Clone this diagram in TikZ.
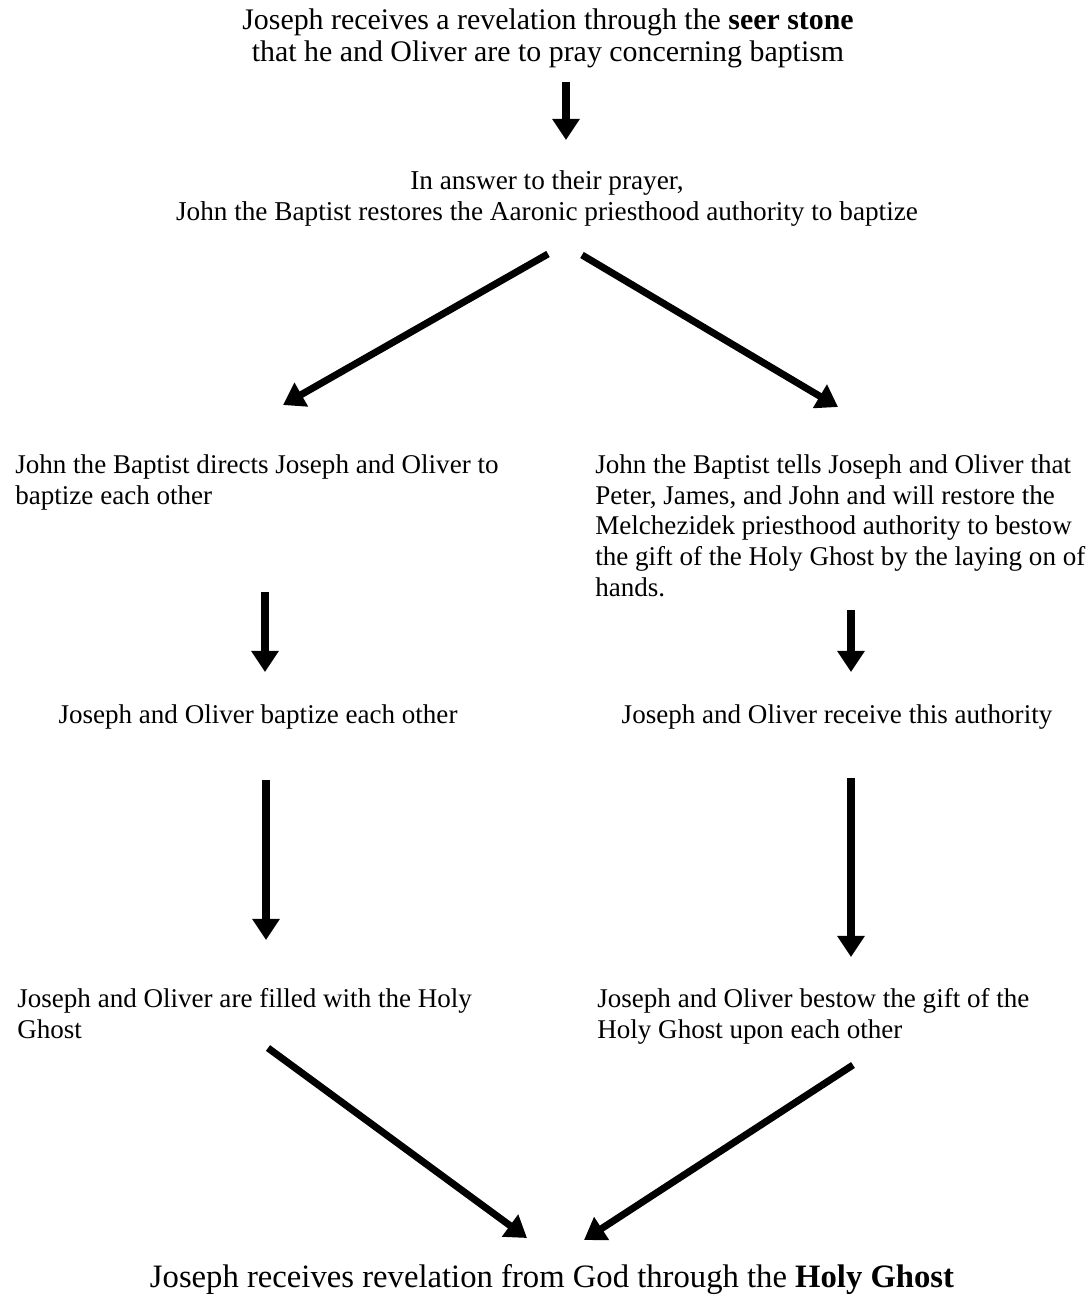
\documentclass[tikz,border=0pt]{standalone}
\usepackage{fontspec}
\setmainfont{Liberation Serif}
\usetikzlibrary{arrows.meta,calc}
\tikzset{flow/.style={line width=4pt,-{Triangle[length=12pt,width=15pt]}}}
\tikzset{para/.style={inner sep=0pt,align=left,font=\fontsize{15.4}{17.6}\selectfont}}
\tikzset{headline/.style={inner sep=0pt,align=center,font=\fontsize{17}{18.2}\selectfont}}

\begin{document}
\begin{tikzpicture}[x=0.02cm,y=-0.02cm]
	\useasboundingbox (0,0) rectangle (1090,1302);
	% top and second statement
	\node [headline,anchor=north] (seer) at (548,8) {Joseph receives a revelation through the \textbf{seer stone}\\that he and Oliver are to pray concerning baptism};
	\node [para,align=center,font=\fontsize{15.5}{17.6}\selectfont,anchor=north] (prayer) at (547,170) {In answer to their prayer,\\John the Baptist restores the Aaronic priesthood authority to baptize};
	% the two branches
	\node [para,anchor=north west] (directs) at (15,454) {John the Baptist directs Joseph and Oliver to\\baptize each other};
	\node [para,anchor=north west] (tells) at (595,454) {John the Baptist tells Joseph and Oliver that\\Peter, James, and John and will restore the\\Melchezidek priesthood authority to bestow\\the gift of the Holy Ghost by the laying on of\\hands.};
	\node [para,anchor=north] (baptize) at (258,704) {Joseph and Oliver baptize each other};
	\node [para,anchor=north] (receive) at (837,704) {Joseph and Oliver receive this authority};
	\node [para,anchor=north west] (filled) at (17,988) {Joseph and Oliver are filled with the Holy\\Ghost};
	\node [para,anchor=north west] (bestow) at (597,988) {Joseph and Oliver bestow the gift of the\\Holy Ghost upon each other};
	\node [inner sep=0pt,anchor=north,font=\fontsize{18.6}{21}\selectfont] (revel) at (552,1264) {Joseph receives revelation from God through the \textbf{Holy Ghost}};

	\draw [flow] ($(seer.north)+(18,74)$) -- ($(prayer.north)+(19,-30)$);
	\draw [flow] ($(prayer.north)+(1,84)$) -- ($(directs.north west)+(268,-49)$);
	\draw [flow] ($(prayer.north)+(35,85)$) -- ($(tells.north west)+(243,-47)$);
	\draw [flow] ($(directs.north west)+(250,138)$) -- ($(baptize.north)+(7,-32)$);
	\draw [flow] ($(tells.north west)+(256,156)$) -- ($(receive.north)+(14,-32)$);
	\draw [flow] ($(baptize.north)+(8,76)$) -- ($(filled.north west)+(249,-48)$);
	\draw [flow] ($(receive.north)+(14,74)$) -- ($(bestow.north west)+(254,-31)$);
	\draw [flow] ($(filled.north west)+(251,60)$) -- ($(revel.north)+(-25,-26)$);
	\draw [flow] ($(bestow.north west)+(256,77)$) -- ($(revel.north)+(32,-24)$);
\end{tikzpicture}
\end{document}
